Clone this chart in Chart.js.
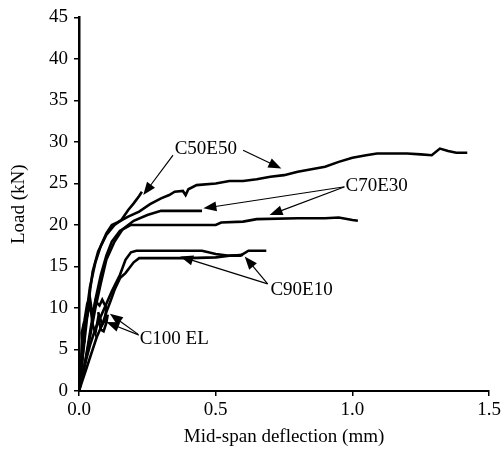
<!DOCTYPE html>
<html>
<head>
<meta charset="utf-8">
<script src="https://cdn.jsdelivr.net/npm/chart.js@4/dist/chart.umd.min.js"></script>
<style>
  html, body { margin: 0; padding: 0; background: #fff; }
  #wrap { width: 504px; height: 454px; }
</style>
</head>
<body>
<div id="wrap"><canvas id="myChart" width="504" height="454"></canvas></div>
<script>
    // Load-deflection curves
    const c50e50LongX = [0, 0.01, 0.02, 0.03, 0.04, 0.06, 0.08, 0.1, 0.12, 0.14, 0.18, 0.22, 0.26, 0.3, 0.33, 0.35, 0.38, 0.39, 0.4, 0.43, 0.5, 0.55, 0.6, 0.65, 0.7, 0.75, 0.8, 0.85, 0.9, 0.95, 1.0, 1.05, 1.09, 1.2, 1.25, 1.29, 1.32, 1.35, 1.38, 1.42];
    const c50e50LongY = [0, 3, 7, 10, 12.5, 15.5, 17.5, 19, 20, 20.3, 21, 21.6, 22.5, 23.2, 23.6, 24, 24.1, 23.6, 24.3, 24.8, 25, 25.3, 25.3, 25.5, 25.8, 26, 26.4, 26.7, 27, 27.6, 28.1, 28.4, 28.6, 28.6, 28.5, 28.4, 29.2, 28.9, 28.7, 28.7];

    const c50e50ShortX = [0, 0.01, 0.02, 0.03, 0.04, 0.05, 0.07, 0.1, 0.13, 0.155, 0.18, 0.2, 0.22, 0.23];
    const c50e50ShortY = [0, 3, 6, 9, 12, 14.4, 16.8, 18.8, 20, 20.6, 21.8, 22.6, 23.5, 24];

    const c70e30LongX = [0, 0.02, 0.04, 0.06, 0.08, 0.1, 0.12, 0.15, 0.19, 0.5, 0.52, 0.6, 0.65, 0.8, 0.9, 0.95, 1.0, 1.02];
    const c70e30LongY = [0, 3, 7, 11, 14, 16.3, 18, 19.3, 20, 20, 20.3, 20.4, 20.7, 20.8, 20.8, 20.9, 20.6, 20.5];

    const c70e30ShortX = [0, 0.02, 0.04, 0.06, 0.08, 0.1, 0.13, 0.16, 0.2, 0.25, 0.3, 0.45];
    const c70e30ShortY = [0, 3, 6.5, 10, 13, 15.8, 18, 19.5, 20.5, 21.2, 21.7, 21.7];

    const c90e10UpperX = [0, 0.01, 0.02, 0.04, 0.06, 0.08, 0.1, 0.12, 0.15, 0.17, 0.19, 0.21, 0.45, 0.5, 0.55, 0.59, 0.62, 0.685];
    const c90e10UpperY = [0, 1.5, 3, 5.5, 7.5, 9, 10.5, 12, 14, 15.8, 16.7, 16.9, 16.9, 16.5, 16.3, 16.3, 16.9, 16.9];

    const c90e10LowerX = [0, 0.01, 0.025, 0.045, 0.065, 0.085, 0.1, 0.115, 0.13, 0.15, 0.17, 0.2, 0.22, 0.4, 0.5, 0.55, 0.6];
    const c90e10LowerY = [0, 1, 2.5, 4.5, 6.5, 8, 9.5, 10.8, 12.2, 13.6, 14.2, 15.5, 16, 16, 16.1, 16.3, 16.4];

    const c100aX = [0, 0.005, 0.008, 0.012, 0.01, 0.02, 0.03, 0.04, 0.05, 0.06, 0.075, 0.085, 0.1, 0.095, 0.085, 0.07];
    const c100aY = [0, 2, 4, 6, 7, 8.5, 10.5, 11.2, 9, 10.8, 10.3, 11, 10, 8.5, 8, 9.5];

    const c100bX = [0, 0.005, 0.01, 0.012, 0.02, 0.018, 0.03, 0.04, 0.05, 0.06, 0.07, 0.08, 0.09, 0.1, 0.105];
    const c100bY = [0, 1.5, 3, 5, 6, 8, 9, 10.6, 8, 7, 8.8, 7.4, 7.2, 8.2, 9.2];

    // Axis ticks
    const xTicks = [0, 0.5, 1.0, 1.5];
    const yTicks = [0, 5, 10, 15, 20, 25, 30, 35, 40, 45];

    // Curve labels and their leader arrows (data coordinates)
    const noteLabels = ['C50E50', 'C70E30', 'C90E10', 'C100 EL'];
    const noteX = [0.35, 0.975, 0.70, 0.222];
    const noteY = [29.2, 24.7, 12.2, 6.3];
    const arrowFromX = [0.344, 0.60, 0.972, 0.972, 0.69, 0.69, 0.222, 0.222];
    const arrowFromY = [28.4, 29.0, 24.6, 24.6, 12.9, 12.9, 6.7, 6.7];
    const arrowToX = [0.235, 0.74, 0.455, 0.697, 0.606, 0.37, 0.113, 0.10];
    const arrowToY = [23.6, 26.8, 22.0, 21.2, 16.2, 16.2, 9.3, 8.3];

    const FONT = '"Liberation Serif", "DejaVu Serif", serif';

    function toPoints(xs, ys) {
        return xs.map((x, i) => ({ x: x, y: ys[i] }));
    }

    function curve(xs, ys) {
        return {
            data: toPoints(xs, ys),
            borderColor: '#000',
            borderWidth: 2.6,
            pointRadius: 0,
            tension: 0,
            fill: false,
        };
    }

    const datasets = [
        curve(c50e50LongX, c50e50LongY),
        curve(c50e50ShortX, c50e50ShortY),
        curve(c70e30LongX, c70e30LongY),
        curve(c70e30ShortX, c70e30ShortY),
        curve(c90e10UpperX, c90e10UpperY),
        curve(c90e10LowerX, c90e10LowerY),
        curve(c100aX, c100aY),
        curve(c100bX, c100bY),
    ];

    // Draws the text labels and arrows on top of the curves
    const notesPlugin = {
        id: 'notes',
        afterDatasetsDraw(chart) {
            const ctx = chart.ctx;
            const xs = chart.scales.x;
            const ys = chart.scales.y;
            ctx.save();
            ctx.fillStyle = '#000';
            ctx.strokeStyle = '#000';
            ctx.lineWidth = 1.2;

            for (let i = 0; i < arrowFromX.length; i++) {
                const x1 = xs.getPixelForValue(arrowFromX[i]);
                const y1 = ys.getPixelForValue(arrowFromY[i]);
                const x2 = xs.getPixelForValue(arrowToX[i]);
                const y2 = ys.getPixelForValue(arrowToY[i]);
                const ang = Math.atan2(y2 - y1, x2 - x1);
                const len = 13, half = 5;
                ctx.beginPath();
                ctx.moveTo(x1, y1);
                ctx.lineTo(x2 - Math.cos(ang) * len * 0.8, y2 - Math.sin(ang) * len * 0.8);
                ctx.stroke();
                ctx.beginPath();
                ctx.moveTo(x2, y2);
                ctx.lineTo(x2 - Math.cos(ang) * len - Math.sin(ang) * half, y2 - Math.sin(ang) * len + Math.cos(ang) * half);
                ctx.lineTo(x2 - Math.cos(ang) * len + Math.sin(ang) * half, y2 - Math.sin(ang) * len - Math.cos(ang) * half);
                ctx.closePath();
                ctx.fill();
            }

            ctx.font = '19px ' + FONT;
            ctx.textAlign = 'left';
            ctx.textBaseline = 'middle';
            for (let i = 0; i < noteLabels.length; i++) {
                const px = xs.getPixelForValue(noteX[i]);
                const py = ys.getPixelForValue(noteY[i]);
                const w = ctx.measureText(noteLabels[i]).width;
                ctx.fillStyle = '#fff';
                ctx.fillRect(px - 1, py - 9, w + 2, 18);
                ctx.fillStyle = '#000';
                ctx.fillText(noteLabels[i], px, py);
            }
            ctx.restore();
        }
    };

    const ctx = document.getElementById('myChart').getContext('2d');
    const chart = new Chart(ctx, {
        type: 'line',
        data: { datasets: datasets },
        options: {
            responsive: false,
            animation: false,
            layout: { padding: { left: 0, top: 13, right: 14, bottom: 0 } },
            plugins: {
                legend: { display: false },
                tooltip: { enabled: false },
            },
            scales: {
                x: {
                    type: 'linear',
                    min: 0,
                    max: 1.5,
                    afterFit: (scale) => { scale.height = 63; },
                    afterBuildTicks: (scale) => { scale.ticks = xTicks.map(v => ({ value: v })); },
                    border: { display: true, color: '#000', width: 2 },
                    grid: { drawOnChartArea: false, drawTicks: true, tickLength: 5, color: '#000', lineWidth: 1.5 },
                    ticks: {
                        color: '#000',
                        padding: 3,
                        font: { family: FONT, size: 19 },
                        callback: (v) => Number(v).toFixed(1),
                    },
                    title: {
                        display: true,
                        text: 'Mid-span deflection (mm)',
                        color: '#000',
                        font: { family: FONT, size: 19 },
                        padding: { top: 0, bottom: 6 },
                    },
                },
                y: {
                    type: 'linear',
                    min: 0,
                    max: 45,
                    afterFit: (scale) => { scale.width = 79; },
                    afterBuildTicks: (scale) => { scale.ticks = yTicks.map(v => ({ value: v })); },
                    border: { display: true, color: '#000', width: 2.5 },
                    grid: { drawOnChartArea: false, drawTicks: true, tickLength: 5, color: '#000', lineWidth: 1.5 },
                    ticks: {
                        color: '#000',
                        padding: 6,
                        font: { family: FONT, size: 19 },
                    },
                    title: {
                        display: true,
                        text: 'Load (kN)',
                        color: '#000',
                        font: { family: FONT, size: 19 },
                        padding: { top: 8, bottom: 0 },
                    },
                },
            },
        },
        plugins: [notesPlugin],
    });
</script>
</body>
</html>
